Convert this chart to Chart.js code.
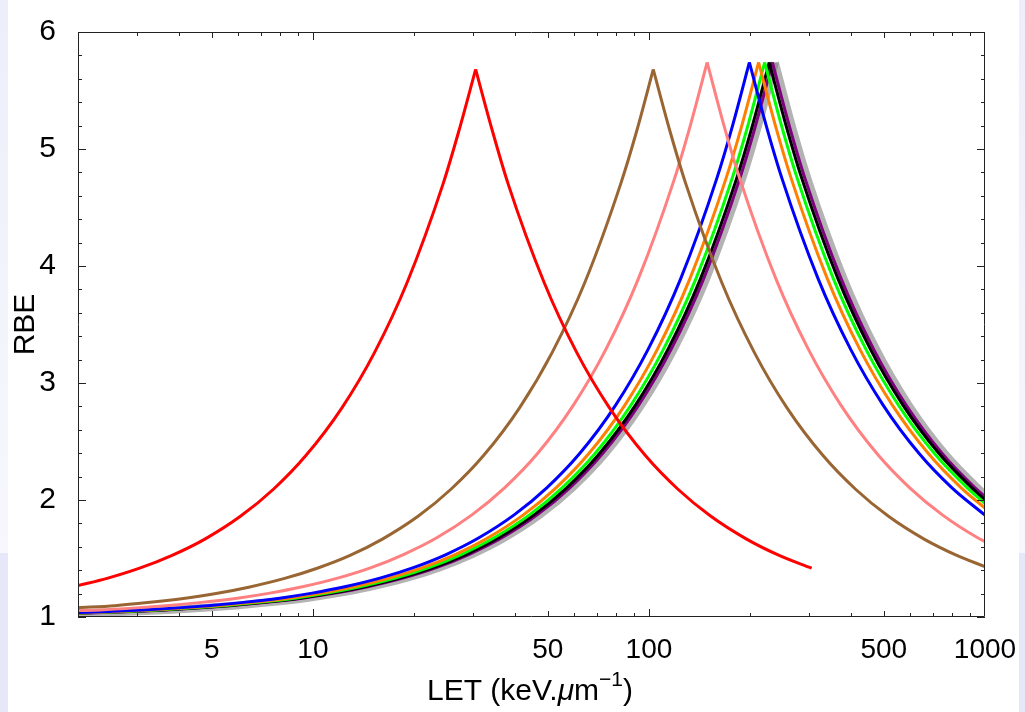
<!DOCTYPE html>
<html>
<head>
<meta charset="utf-8">
<script src="https://cdn.jsdelivr.net/npm/chart.js@4/dist/chart.umd.min.js"></script>
<style>
  html, body { margin: 0; padding: 0; background: #fff; }
  #wrap { position: relative; width: 1025px; height: 712px; overflow: hidden; }
  .strip { position: absolute; }
  canvas { position: absolute; left: 0; top: 0; }
</style>
</head>
<body>
<div id="wrap">
  <div class="strip" style="left:0;top:0;width:8px;height:553px;background:linear-gradient(#eeeefb,#f7f7fd);"></div>
  <div class="strip" style="left:0;top:553px;width:8px;height:159px;background:#e7e7fa;"></div>
  <div class="strip" style="left:1019px;top:0;width:6px;height:553px;background:linear-gradient(#eeeefb,#f7f7fd);"></div>
  <div class="strip" style="left:1019px;top:553px;width:6px;height:159px;background:#e7e7fa;"></div>
  <canvas id="chartCanvasRBE" width="1025" height="712"></canvas>
</div>
<script>
// x tick labels shown on the LET axis
const X_TICKS = [5, 10, 50, 100, 500, 1000];

// values: LET (keV/um) and RBE for each curve
const redLET = [2, 2.44, 3.05, 3.81, 4.77, 6.1, 7.63, 9.53, 12.2, 15.25, 19.06, 24.4, 27.2, 30.5, 34.2, 38.1, 48.8, 61, 76.3, 97.6, 122, 152.5, 195.2, 244, 305];
const redRBE = [1.268, 1.33, 1.417, 1.527, 1.666, 1.863, 2.092, 2.38, 2.788, 3.26, 3.857, 4.702, 5.156, 5.68, 5.156, 4.702, 3.857, 3.26, 2.788, 2.38, 2.092, 1.863, 1.666, 1.527, 1.417];

const brownLET = [2, 2.575, 3.22, 4.12, 5.15, 6.44, 8.24, 10.3, 12.9, 16.1, 20.6, 25.75, 32.2, 41.2, 51.5, 64.4, 82.4, 92.0, 103, 115.4, 128.75, 164.8, 206, 257.5, 329.6, 412, 515, 659, 824, 1000];
const brownRBE = [1.08, 1.097, 1.123, 1.159, 1.201, 1.255, 1.33, 1.417, 1.527, 1.666, 1.863, 2.092, 2.38, 2.788, 3.26, 3.857, 4.702, 5.156, 5.68, 5.156, 4.702, 3.857, 3.26, 2.788, 2.38, 2.092, 1.863, 1.666, 1.527, 1.43];

const pinkLET = [2, 2.33, 2.98, 3.725, 4.66, 5.96, 7.45, 9.31, 11.92, 14.9, 18.6, 23.3, 29.8, 37.25, 46.6, 59.6, 74.5, 93.1, 119.2, 133, 149, 166.9, 186.25, 238.4, 298, 372.5, 476.8, 596, 745, 953.6, 1000];
const pinkRBE = [1.055, 1.06, 1.078, 1.099, 1.125, 1.161, 1.204, 1.258, 1.334, 1.422, 1.534, 1.675, 1.875, 2.106, 2.397, 2.811, 3.289, 3.894, 4.749, 5.209, 5.74, 5.209, 4.749, 3.894, 3.289, 2.811, 2.397, 2.106, 1.875, 1.675, 1.645];

const blueLET = [2, 2.49, 3.11, 3.98, 4.975, 6.22, 7.96, 9.95, 12.44, 15.92, 19.9, 24.9, 31.1, 39.8, 49.75, 62.2, 79.6, 99.5, 124.4, 159.2, 177.7, 199, 222.9, 248.75, 318.4, 398, 497.5, 636.8, 796, 1000];
const blueRBE = [1.038, 1.048, 1.06, 1.078, 1.099, 1.125, 1.161, 1.204, 1.258, 1.334, 1.422, 1.534, 1.675, 1.875, 2.106, 2.397, 2.811, 3.289, 3.894, 4.749, 5.209, 5.74, 5.209, 4.749, 3.894, 3.289, 2.811, 2.397, 2.106, 1.87];

const orangeLET = [2, 2.65, 3.31, 4.24, 5.3, 6.625, 8.48, 10.6, 13.25, 16.96, 21.2, 26.5, 33.1, 42.4, 53, 66.25, 84.8, 106, 132.5, 169.6, 189.3, 212, 237.4, 265, 339.2, 424, 530, 678.4, 848, 1000];
const orangeRBE = [1.035, 1.048, 1.06, 1.078, 1.099, 1.125, 1.161, 1.204, 1.258, 1.334, 1.422, 1.534, 1.675, 1.875, 2.106, 2.397, 2.811, 3.289, 3.894, 4.749, 5.209, 5.74, 5.209, 4.749, 3.894, 3.289, 2.811, 2.397, 2.106, 1.93];

const greenLET = [2, 2.76, 3.45, 4.42, 5.525, 6.9, 8.84, 11.05, 13.8, 17.7, 22.1, 27.6, 34.5, 44.2, 55.25, 69.1, 88.4, 110.5, 138.1, 176.8, 197.3, 221, 247.5, 276.25, 353.6, 442, 552.5, 707.2, 884, 1000];
const greenRBE = [1.034, 1.048, 1.06, 1.078, 1.099, 1.125, 1.161, 1.204, 1.258, 1.334, 1.422, 1.534, 1.675, 1.875, 2.106, 2.397, 2.811, 3.289, 3.894, 4.749, 5.209, 5.74, 5.209, 4.749, 3.894, 3.289, 2.811, 2.397, 2.106, 1.97];

const blackLET = [2, 2.85, 3.56, 4.56, 5.7, 7.125, 9.12, 11.4, 14.25, 18.24, 22.8, 28.5, 35.6, 45.6, 57, 71.25, 91.2, 114, 142.5, 182.4, 203.6, 228, 255.4, 285, 364.8, 456, 570, 729.6, 912, 1000];
const blackRBE = [1.033, 1.048, 1.06, 1.078, 1.099, 1.125, 1.161, 1.204, 1.258, 1.334, 1.422, 1.534, 1.675, 1.875, 2.106, 2.397, 2.811, 3.289, 3.894, 4.749, 5.209, 5.74, 5.209, 4.749, 3.894, 3.289, 2.811, 2.397, 2.106, 2.0];

const purpleLET = [2, 2.91, 3.64, 4.66, 5.825, 7.28, 9.32, 11.65, 14.56, 18.64, 23.3, 29.1, 36.4, 46.6, 58.25, 72.8, 93.2, 116.5, 145.6, 186.4, 208, 233, 261, 291.25, 372.8, 466, 582.5, 745.6, 932, 1000];
const purpleRBE = [1.032, 1.048, 1.06, 1.078, 1.099, 1.125, 1.161, 1.204, 1.258, 1.334, 1.422, 1.534, 1.675, 1.875, 2.106, 2.397, 2.811, 3.289, 3.894, 4.749, 5.209, 5.74, 5.209, 4.749, 3.894, 3.289, 2.811, 2.397, 2.106, 2.03];

const grayLET = [2, 2.96, 3.7, 4.74, 5.925, 7.4, 9.48, 11.85, 14.8, 18.96, 23.7, 29.6, 37.0, 47.4, 59.25, 74.1, 94.8, 118.5, 148.1, 189.6, 211.6, 237, 265.4, 296.25, 379.2, 474, 592.5, 758.4, 948, 1000];
const grayRBE = [1.032, 1.048, 1.06, 1.078, 1.099, 1.125, 1.161, 1.204, 1.258, 1.334, 1.422, 1.534, 1.675, 1.875, 2.106, 2.397, 2.811, 3.289, 3.894, 4.749, 5.209, 5.74, 5.209, 4.749, 3.894, 3.289, 2.811, 2.397, 2.106, 2.045];

const FONT = "'Liberation Sans', Arial, sans-serif";

// each curve is split at its peak so the tip stays sharp
function curve(xs, ys, color, width) {
  const pts = xs.map((x, i) => ({ x, y: ys[i] }));
  const k = ys.indexOf(Math.max(...ys));
  const base = { borderColor: color, backgroundColor: color, borderWidth: width, pointRadius: 0, fill: false };
  return [
    { ...base, data: pts.slice(0, k + 1) },
    { ...base, data: pts.slice(k) },
  ];
}

// frame + inward ticks on all four sides, and the x title with superscript
const framePlugin = {
  id: "frame",
  afterDraw(chart) {
    const { ctx, chartArea: a, scales: { x, y } } = chart;
    ctx.save();
    ctx.strokeStyle = "#222";
    ctx.lineWidth = 1;
    ctx.beginPath();
    ctx.rect(Math.round(a.left) + 0.5, Math.round(a.top) + 0.5, Math.round(a.right - a.left) - 1, Math.round(a.bottom - a.top) - 1);
    ctx.stroke();
    ctx.beginPath();
    for (let k = 0; k <= 25; k++) {
      const py = Math.round(y.getPixelForValue(1 + k * 0.2)) + 0.5;
      const len = k % 5 === 0 ? 8 : 4;
      ctx.moveTo(a.left, py); ctx.lineTo(a.left + len, py);
      ctx.moveTo(a.right, py); ctx.lineTo(a.right - len, py);
    }
    for (let e = 0; e < 3; e++) {
      for (let m = 1; m <= 9; m++) {
        const v = m * Math.pow(10, e);
        if (v < 2 || v > 1000) continue;
        const px = Math.round(x.getPixelForValue(v)) + 0.5;
        const len = m === 1 ? 8 : (m === 5 ? 6 : 4);
        ctx.moveTo(px, a.bottom); ctx.lineTo(px, a.bottom - len);
        ctx.moveTo(px, a.top); ctx.lineTo(px, a.top + len);
      }
    }
    ctx.stroke();

    // "LET (keV.μm^-1)"
    const big = "30px " + FONT, ital = "italic 30px " + FONT, small = "21px " + FONT;
    const parts = [
      { t: "LET (keV.", f: big, dy: 0 },
      { t: "\u03bc", f: ital, dy: 0 },
      { t: "m", f: big, dy: 0 },
      { t: "\u22121", f: small, dy: -14 },
      { t: ")", f: big, dy: 0 },
    ];
    let w = 0;
    parts.forEach(p => { ctx.font = p.f; p.w = ctx.measureText(p.t).width; w += p.w; });
    let cx = 530 - w / 2;
    ctx.fillStyle = "#000";
    ctx.textBaseline = "alphabetic";
    ctx.textAlign = "left";
    parts.forEach(p => { ctx.font = p.f; ctx.fillText(p.t, cx, 700 + p.dy); cx += p.w; });
    ctx.restore();
  }
};

new Chart(document.getElementById("chartCanvasRBE").getContext("2d"), {
  type: "line",
  data: {
    datasets: [
      ...curve(redLET, redRBE, "#ff0000", 3),
      ...curve(brownLET, brownRBE, "#996633", 3),
      ...curve(pinkLET, pinkRBE, "#ff8080", 3),
      ...curve(blueLET, blueRBE, "#0000ff", 3),
      ...curve(orangeLET, orangeRBE, "#ff8000", 3),
      ...curve(greenLET, greenRBE, "#00ff00", 3),
      ...curve(blackLET, blackRBE, "#000000", 3),
      ...curve(purpleLET, purpleRBE, "#800080", 3),
      ...curve(grayLET, grayRBE, "rgba(128,128,128,0.6)", 8),
    ],
  },
  options: {
    responsive: false,
    animation: false,
    devicePixelRatio: 1,
    layout: { padding: { left: 0, right: 40, top: 16, bottom: 0 } },
    elements: { line: { cubicInterpolationMode: "monotone" } },
    plugins: { legend: { display: false }, tooltip: { enabled: false } },
    scales: {
      x: {
        type: "logarithmic",
        min: 2,
        max: 1000,
        afterBuildTicks: s => { s.ticks = X_TICKS.map(v => ({ value: v })); },
        afterFit: s => { s.height = 95; },
        grid: { display: false },
        border: { display: false },
        ticks: {
          color: "#000", font: { family: FONT, size: 28 }, padding: 8,
          maxRotation: 0, autoSkip: false, callback: v => String(v),
        },
      },
      y: {
        min: 1,
        max: 6,
        afterFit: s => { s.width = 78; },
        grid: { display: false },
        border: { display: false },
        ticks: { stepSize: 1, color: "#000", font: { family: FONT, size: 30 }, padding: 14 },
        title: {
          display: true, text: "RBE", color: "#000",
          font: { family: FONT, size: 30 }, padding: { top: 8, bottom: 0 },
        },
      },
    },
  },
  plugins: [framePlugin],
});
</script>
</body>
</html>
